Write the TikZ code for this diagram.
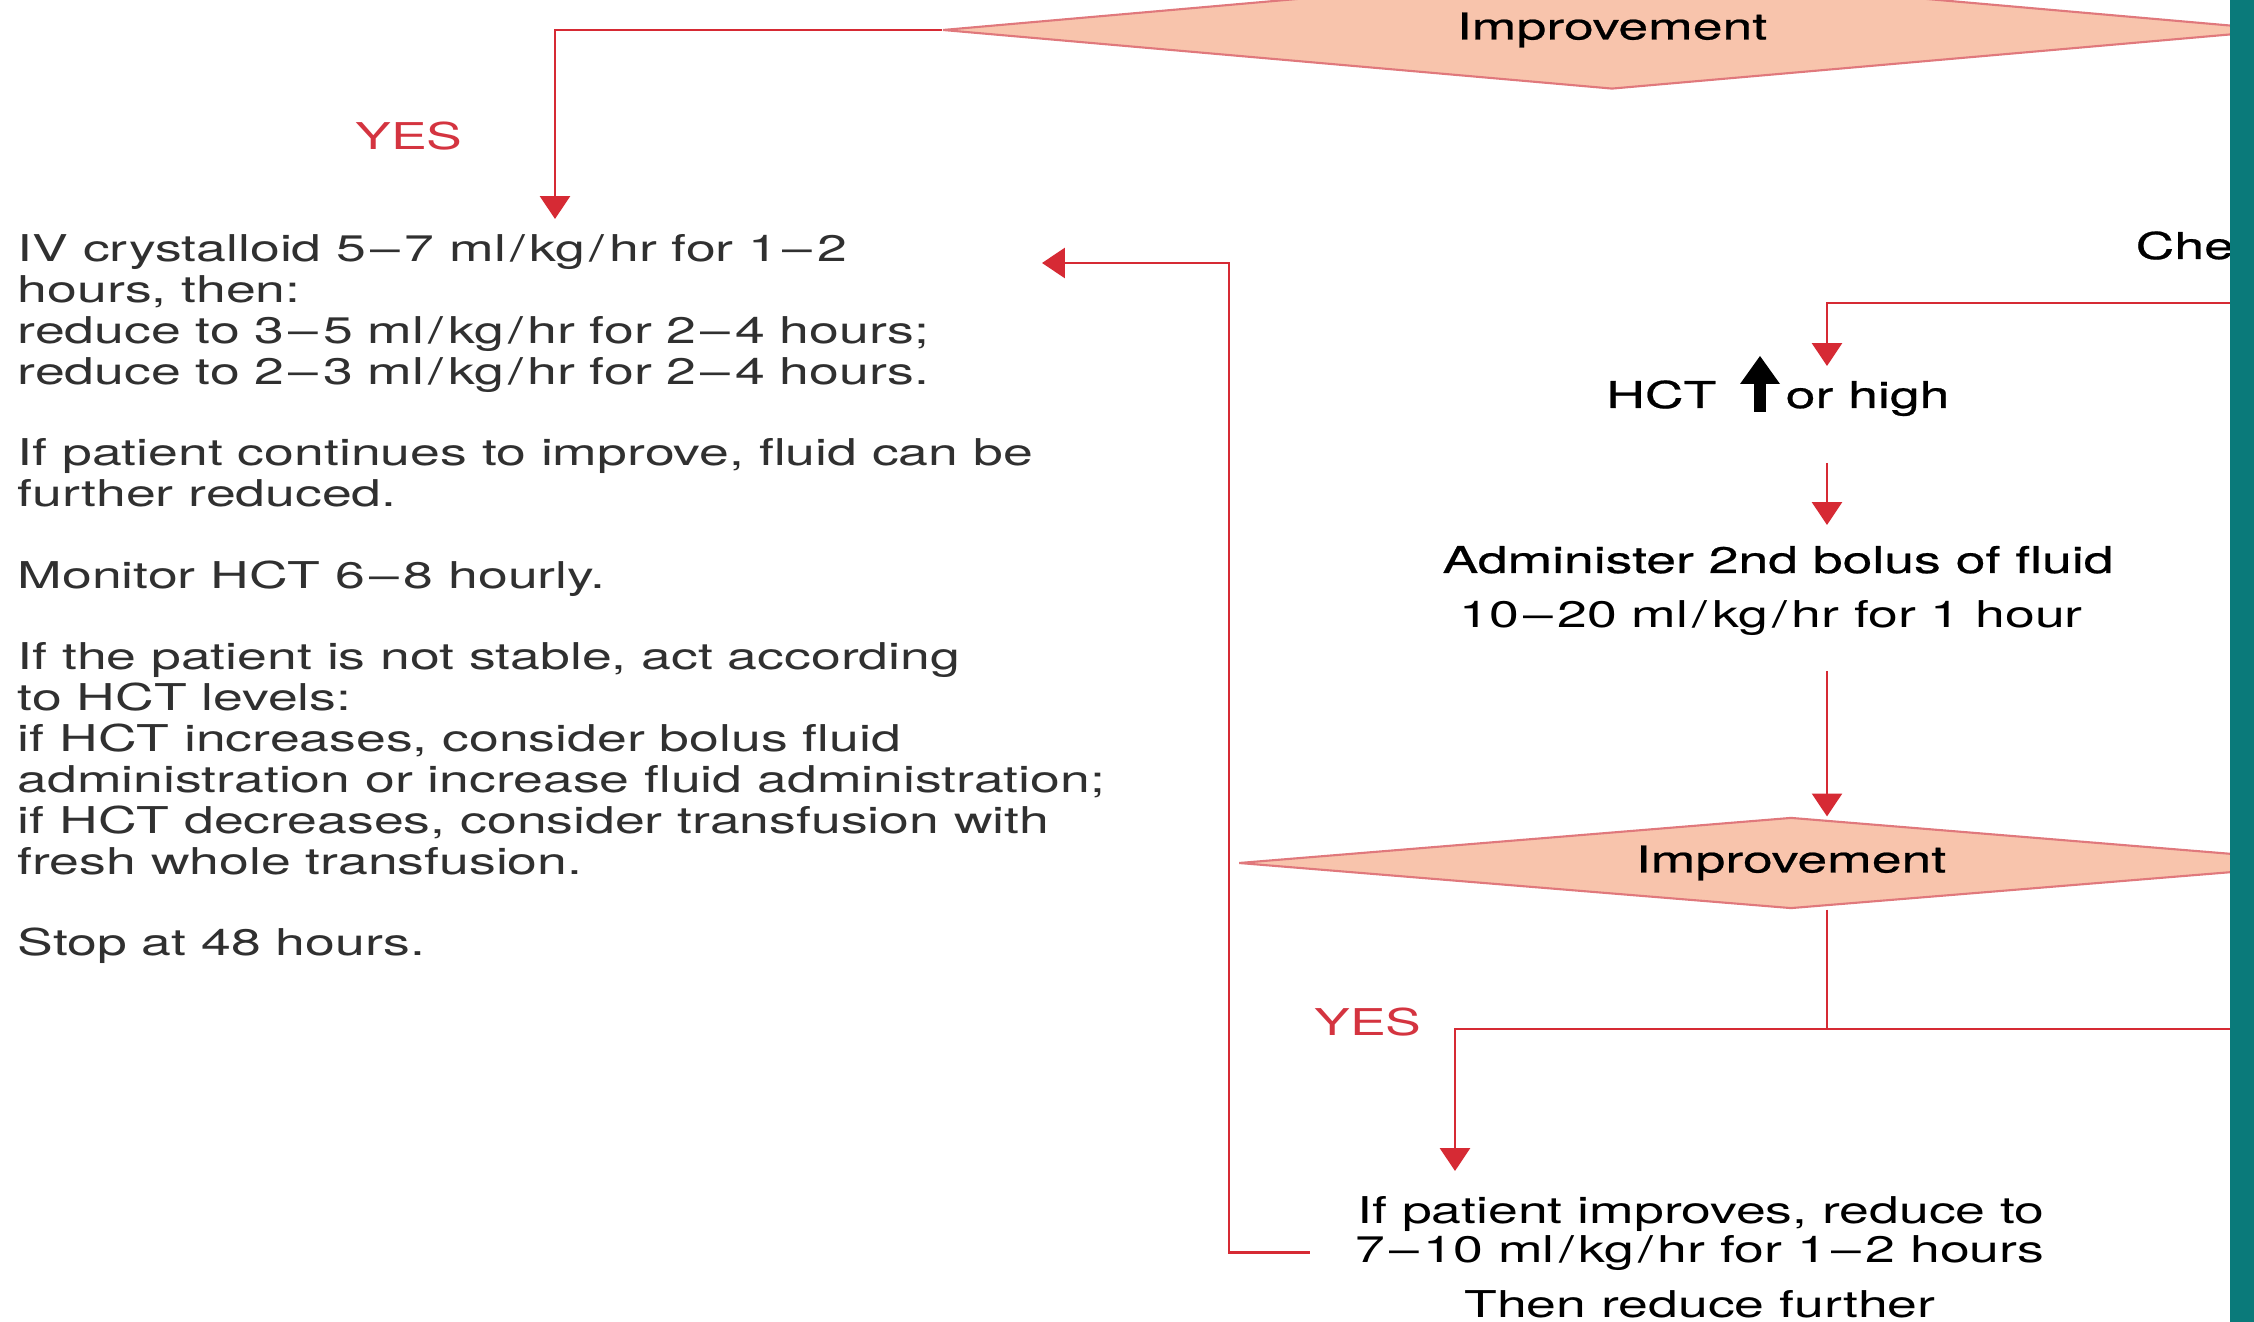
\documentclass[tikz,border=0pt]{standalone}
\usepackage{fontspec}
\usetikzlibrary{arrows.meta,shapes.geometric,calc}
\newfontfamily\fut[FakeStretch=1.45]{TeX Gyre Heros}
\newfontfamily\futm[FakeStretch=1.45,FakeBold=0.6]{TeX Gyre Heros}
\definecolor{lred}{RGB}{214,42,52}
\definecolor{yesred}{RGB}{212,52,64}
\definecolor{dfill}{RGB}{248,196,172}
\definecolor{dedge}{RGB}{224,120,124}
\definecolor{tealbar}{RGB}{10,122,122}
\definecolor{ink}{RGB}{48,48,48}
\newcommand\dsh{\kern0.12em–\kern0.12em}
\newcommand\sls{\kern0.12em/\kern0.12em}
\newcommand\lftln[3]{\node[txt,anchor=base west] (#1) at (17,{262+#2*40.8}) {#3};}
\begin{document}
\begin{tikzpicture}[x=0.01cm,y=-0.01cm,
  txt/.style={inner sep=0pt,text=ink,font=\fut\fontsize{10.5}{11.6}\selectfont},
  mtxt/.style={inner sep=0pt,text=black,font=\futm\fontsize{10.5}{11.6}\selectfont},
  yes/.style={inner sep=0pt,text=yesred,font=\fut\fontsize{10.5}{11.6}\selectfont},
  line/.style={draw=lred,line width=0.8pt},
  conn/.style={draw=lred,line width=0.8pt,-{Triangle[width=8.5pt,length=6.5pt]}},
  dia/.style={diamond,shape aspect=10,fill=dfill,draw=dedge,line width=0.6pt,inner sep=0pt,text=black,font=\futm\fontsize{10.5}{11.6}\selectfont}]
\useasboundingbox (0,0) rectangle (2254,1322);
\clip (0,0) rectangle (2254,1322);
\fill[white] (0,0) rectangle (2254,1322);

% top decision
\node[dia,minimum width=13.38cm,minimum height=1.18cm] (d1) at (1612,30) {Improvement};
\node[yes,anchor=base] (yes1) at (409,150) {YES};
\coordinate (a1) at (555,219);
\draw[conn] (d1.west) -| (a1);

% left instruction block
\lftln{l0}{0}{IV crystalloid 5\dsh 7 ml\sls kg\sls hr for 1\dsh 2}
\lftln{l1}{1}{hours, then:}
\lftln{l2}{2}{reduce to 3\dsh 5 ml\sls kg\sls hr for 2\dsh 4 hours;}
\lftln{l3}{3}{reduce to 2\dsh 3 ml\sls kg\sls hr for 2\dsh 4 hours.}
\lftln{l5}{5}{If patient continues to improve, fluid can be}
\lftln{l6}{6}{further reduced.}
\lftln{l8}{8}{Monitor HCT 6\dsh 8 hourly.}
\lftln{l10}{10}{If the patient is not stable, act according}
\lftln{l11}{11}{to HCT levels:}
\lftln{l12}{12}{if HCT increases, consider bolus fluid}
\lftln{l13}{13}{administration or increase fluid administration;}
\lftln{l14}{14}{if HCT decreases, consider transfusion with}
\lftln{l15}{15}{fresh whole transfusion.}
\lftln{l17}{17}{Stop at 48 hours.}

% right column
\node[mtxt,anchor=base west] (che) at (2135,259) {Che};
\coordinate (r1) at (2230,303);
\coordinate (a3) at (1827,366);
\draw[conn] (r1) -| (a3);

\node[mtxt,anchor=base east] (hctA) at (1717,408) {HCT};
\node[mtxt,anchor=base west] (hctB) at (1785,408) {or high};
\fill[black] (1754,412) rectangle (1766,380);
\fill[black] (1740,384) -- (1780,384) -- (1760,356) -- cycle;

\coordinate (c1) at (1827,463);
\coordinate (c2) at (1827,525);
\draw[conn] (c1) -- (c2);

\node[mtxt,anchor=base] (adm) at (1778,573) {Administer 2nd bolus of fluid};
\node[txt,text=black,anchor=base] (adm2) at (1771,628) {10\dsh 20 ml\sls kg\sls hr for 1 hour};

\coordinate (c3) at (1827,671);
\node[dia,minimum width=11.04cm,minimum height=0.91cm] (d2) at (1791,863) {Improvement};
\draw[conn] (c3) -- (c3 |- d2.north);

\coordinate (c4) at (1827,1029);
\draw[line] (d2.south -| c4) -- (c4);
\coordinate (r2) at (2230,1029);
\coordinate (a4) at (1455,1171);
\draw[conn] (r2) -| (a4);
\node[yes,anchor=base] (yes2) at (1368,1035) {YES};

\node[txt,text=black,anchor=base] (b1) at (1701,1223) {If patient improves, reduce to};
\node[txt,text=black,anchor=base,inner xsep=0.45cm] (b2) at (1700,1262) {7\dsh 10 ml\sls kg\sls hr for 1\dsh 2 hours};
\node[txt,text=black,anchor=base] (b3) at (1700,1317) {Then reduce further};

\coordinate (k1) at (1229,263);
\coordinate (a2) at (1042,263);
\draw[conn] (b2.west) -| (k1) -- (a2);

% teal side bar
\fill[tealbar] (2230,0) rectangle (2254,1322);
\end{tikzpicture}
\end{document}
